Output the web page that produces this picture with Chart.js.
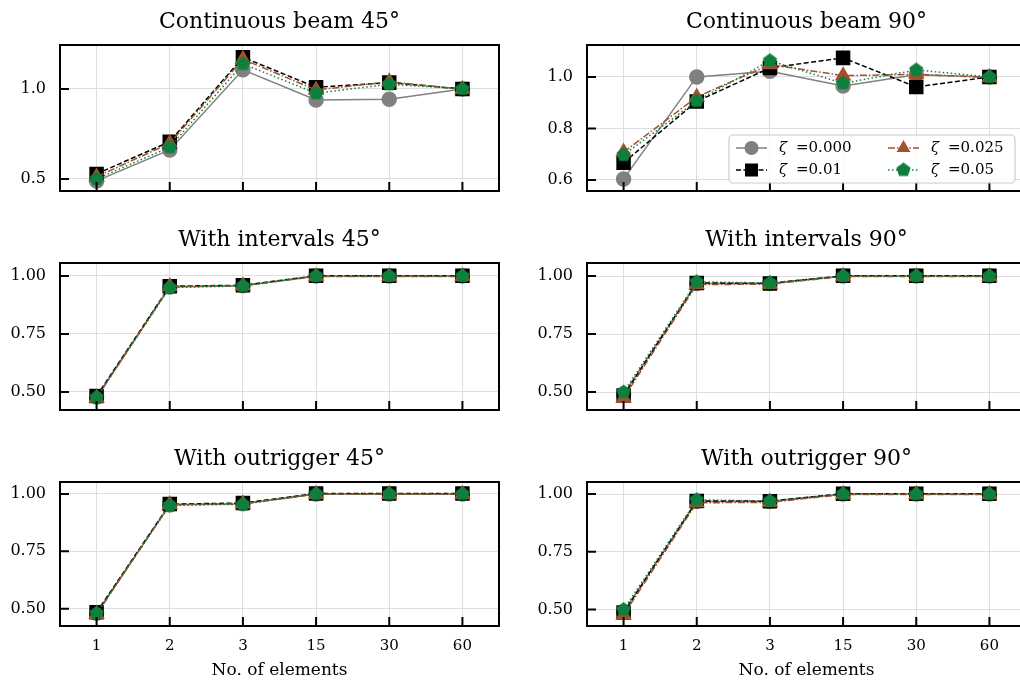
<!DOCTYPE html>
<html>
<head>
<meta charset="utf-8">
<title>Convergence with number of elements</title>
<script src="https://cdn.jsdelivr.net/npm/chart.js@4.4.1/dist/chart.umd.min.js"></script>
<style>
    html, body { margin: 0; padding: 0; width: 1020px; height: 687px; overflow: hidden; background: #fff; }
    canvas { position: absolute; }
</style>
</head>
<body>
<canvas id="beam45" width="510" height="200" style="left:0;top:0"></canvas>
<canvas id="beam90" width="520" height="200" style="left:510px;top:0"></canvas>
<canvas id="int45" width="510" height="200" style="left:0;top:218px"></canvas>
<canvas id="int90" width="520" height="200" style="left:510px;top:218px"></canvas>
<canvas id="out45" width="510" height="250" style="left:0;top:437px"></canvas>
<canvas id="out90" width="520" height="250" style="left:510px;top:437px"></canvas>
<script>
const categories = ['1', '2', '3', '15', '30', '60'];
const zetaLabels = ['ζ =0.000', 'ζ =0.01', 'ζ =0.025', 'ζ =0.05'];

// Continuous beam 45°
const beam45Z000 = [0.489, 0.661, 1.106, 0.939, 0.943, 1.000];
const beam45Z010 = [0.528, 0.707, 1.176, 1.009, 1.035, 1.000];
const beam45Z025 = [0.512, 0.698, 1.165, 0.994, 1.040, 0.998];
const beam45Z050 = [0.500, 0.676, 1.139, 0.976, 1.026, 1.000];

// Continuous beam 90°
const beam90Z000 = [0.604, 1.000, 1.022, 0.965, 1.008, 1.000];
const beam90Z010 = [0.667, 0.905, 1.035, 1.074, 0.961, 1.000];
const beam90Z025 = [0.708, 0.922, 1.048, 1.005, 1.010, 0.998];
const beam90Z050 = [0.697, 0.907, 1.063, 0.975, 1.027, 1.000];

// With intervals 45°
const int45Z000 = [0.478, 0.952, 0.958, 1.000, 1.000, 1.000];
const int45Z010 = [0.482, 0.956, 0.960, 1.001, 1.001, 1.001];
const int45Z025 = [0.474, 0.955, 0.958, 0.998, 0.998, 0.998];
const int45Z050 = [0.477, 0.950, 0.957, 1.000, 1.000, 1.000];

// With intervals 90°
const int90Z000 = [0.490, 0.968, 0.968, 1.000, 1.000, 1.000];
const int90Z010 = [0.485, 0.970, 0.968, 1.001, 1.001, 1.001];
const int90Z025 = [0.475, 0.963, 0.965, 0.998, 0.998, 0.998];
const int90Z050 = [0.500, 0.975, 0.970, 1.000, 1.000, 1.000];

// With outrigger 45°
const out45Z000 = [0.480, 0.952, 0.957, 1.000, 1.000, 1.000];
const out45Z010 = [0.484, 0.956, 0.960, 1.002, 1.002, 1.002];
const out45Z025 = [0.476, 0.954, 0.957, 0.999, 0.999, 0.999];
const out45Z050 = [0.480, 0.950, 0.955, 1.000, 1.000, 1.000];

// With outrigger 90°
const out90Z000 = [0.490, 0.968, 0.968, 1.000, 1.000, 1.000];
const out90Z010 = [0.487, 0.970, 0.969, 1.001, 1.001, 1.001];
const out90Z025 = [0.477, 0.962, 0.964, 0.998, 0.998, 0.998];
const out90Z050 = [0.500, 0.975, 0.970, 1.000, 1.000, 1.000];

// y tick labels
const beam45Ticks = [0.5, 1.0];
const beam90Ticks = [0.6, 0.8, 1.0];
const otherTicks = [0.50, 0.75, 1.00];

const gray = '#808080';
const sienna = '#a0522d';
const green = '#0e7f3d';
const gridColor = '#dedede';

Chart.defaults.font.family = '"DejaVu Serif", serif';
Chart.defaults.font.size = 15;
Chart.defaults.color = '#000';

// matplotlib-like pentagon marker
function pentagon(r, color) {
    var c = document.createElement('canvas');
    c.width = c.height = Math.ceil(2 * r + 2);
    var ctx = c.getContext('2d');
    ctx.fillStyle = color;
    ctx.beginPath();
    for (var i = 0; i < 5; i++) {
        var a = -Math.PI / 2 + i * 2 * Math.PI / 5;
        var px = c.width / 2 + r * Math.cos(a);
        var py = c.height / 2 + r * Math.sin(a);
        if (i == 0) ctx.moveTo(px, py); else ctx.lineTo(px, py);
    }
    ctx.closePath();
    ctx.fill();
    return c;
}
const pentImg = pentagon(7.5, green);

function makeSets(z0, z1, z25, z5) {
    return [
        { label: zetaLabels[0], data: z0, borderColor: gray, backgroundColor: gray, borderWidth: 1.5,
          pointStyle: 'circle', pointRadius: 7, order: 3 },
        { label: zetaLabels[1], data: z1, borderColor: '#000', backgroundColor: '#000', borderWidth: 1.5,
          borderDash: [5, 2.5], pointStyle: 'rect', pointRadius: 9.2, order: 2 },
        { label: zetaLabels[2], data: z25, borderColor: sienna, backgroundColor: sienna, borderWidth: 1.5,
          borderDash: [7, 2, 1.5, 2], pointStyle: 'triangle', pointRadius: 8, order: 1 },
        { label: zetaLabels[3], data: z5, borderColor: green, backgroundColor: green, borderWidth: 1.5,
          borderDash: [1.5, 2.5], pointStyle: pentImg, pointRadius: 7.5, order: 0 }
    ];
}

// box round the axes and inward ticks
const framePlugin = {
    id: 'frame',
    afterDatasetsDraw: function (chart) {
        var ctx = chart.ctx, a = chart.chartArea;
        var xs = chart.scales.x, ys = chart.scales.y;
        ctx.save();
        ctx.strokeStyle = '#000';
        ctx.lineWidth = 2;
        ctx.strokeRect(a.left, a.top, a.right - a.left, a.bottom - a.top);
        ctx.beginPath();
        xs.ticks.forEach(function (t, i) {
            var px = xs.getPixelForTick(i);
            ctx.moveTo(px, a.bottom);
            ctx.lineTo(px, a.bottom - 9);
        });
        ys.ticks.forEach(function (t, i) {
            var py = ys.getPixelForTick(i);
            ctx.moveTo(a.left, py);
            ctx.lineTo(a.left + 9, py);
        });
        ctx.stroke();
        ctx.restore();
    }
};

// two column legend in the lower right of the axes
const boxLegend = {
    id: 'boxLegend',
    afterDraw: function (chart) {
        var ctx = chart.ctx, area = chart.chartArea;
        var w = 286, h = 48;
        var bx = area.right - 11 - w, by = area.bottom - 8 - h;
        ctx.save();
        ctx.beginPath();
        ctx.roundRect(bx, by, w, h, 4);
        ctx.fillStyle = 'rgba(255,255,255,0.8)';
        ctx.fill();
        ctx.strokeStyle = '#cccccc';
        ctx.lineWidth = 1.2;
        ctx.stroke();
        chart.data.datasets.forEach(function (ds, i) {
            var col = i < 2 ? 0 : 1, row = i % 2;
            var lx = bx + 7 + col * 152, ly = by + 13 + row * 22;
            ctx.strokeStyle = ds.borderColor;
            ctx.lineWidth = ds.borderWidth;
            ctx.setLineDash(ds.borderDash || []);
            ctx.beginPath();
            ctx.moveTo(lx, ly);
            ctx.lineTo(lx + 31, ly);
            ctx.stroke();
            ctx.setLineDash([]);
            ctx.fillStyle = ds.backgroundColor;
            Chart.helpers.drawPoint(ctx, { pointStyle: ds.pointStyle, radius: ds.pointRadius, rotation: 0, borderWidth: 0 }, lx + 15.5, ly);
            var tx = lx + 43;
            ctx.fillStyle = '#000';
            ctx.textBaseline = 'middle';
            ctx.font = 'italic 15px "DejaVu Serif"';
            ctx.fillText(ds.label.charAt(0), tx, ly);
            ctx.font = '15px "DejaVu Serif"';
            ctx.fillText(ds.label.slice(2), tx + 17, ly);
        });
        ctx.restore();
    }
};

function makePanel(id, title, sets, yMin, yMax, yTicks, decimals, rightCol, xHeight, showX, legend) {
    var plugins = [framePlugin];
    if (legend) plugins.push(boxLegend);
    return new Chart(document.getElementById(id), {
        type: 'line',
        data: { labels: categories, datasets: sets },
        plugins: plugins,
        options: {
            responsive: false,
            animation: false,
            // right hand axes run past the edge of the figure
            layout: { autoPadding: false, padding: { left: 0, right: rightCol ? 4 : 11, top: 0, bottom: 0 } },
            elements: { line: { tension: 0, fill: false }, point: { borderWidth: 0 } },
            plugins: {
                legend: { display: false },
                tooltip: { enabled: false },
                title: {
                    display: true, text: title, fullSize: false, color: '#000',
                    font: { size: 22, weight: 'normal', lineHeight: 1.2 },
                    padding: { top: 9, bottom: 9.6 }
                }
            },
            scales: {
                x: {
                    offset: true,
                    afterFit: function (s) { s.height = xHeight; s.paddingLeft = 0; s.paddingRight = 0; },
                    grid: { color: gridColor, drawTicks: false },
                    border: { display: false },
                    ticks: { display: showX, padding: 11, font: { size: 15 }, maxRotation: 0, autoSkip: false },
                    title: { display: showX, text: 'No. of elements', font: { size: 17 }, padding: { top: 0, bottom: 6 } }
                },
                y: {
                    min: yMin,
                    max: yMax,
                    afterBuildTicks: function (s) { s.ticks = yTicks.map(function (v) { return { value: v }; }); },
                    afterFit: function (s) { s.width = rightCol ? 77 : 60; s.paddingTop = 0; s.paddingBottom = 0; },
                    grid: { color: gridColor, drawTicks: false },
                    border: { display: false },
                    ticks: {
                        padding: 14, font: { size: 16 },
                        callback: function (v) { return Number(v).toFixed(decimals); }
                    }
                }
            }
        }
    });
}

makePanel('beam45', 'Continuous beam 45°', makeSets(beam45Z000, beam45Z010, beam45Z025, beam45Z050),
    0.433, 1.244, beam45Ticks, 1, false, 9, false, false);
makePanel('beam90', 'Continuous beam 90°', makeSets(beam90Z000, beam90Z010, beam90Z025, beam90Z050),
    0.557, 1.124, beam90Ticks, 1, true, 9, false, true);
makePanel('int45', 'With intervals 45°', makeSets(int45Z000, int45Z010, int45Z025, int45Z050),
    0.422, 1.056, otherTicks, 2, false, 8, false, false);
makePanel('int90', 'With intervals 90°', makeSets(int90Z000, int90Z010, int90Z025, int90Z050),
    0.423, 1.056, otherTicks, 2, true, 8, false, false);
makePanel('out45', 'With outrigger 45°', makeSets(out45Z000, out45Z010, out45Z025, out45Z050),
    0.4245, 1.052, otherTicks, 2, false, 61, true, false);
makePanel('out90', 'With outrigger 90°', makeSets(out90Z000, out90Z010, out90Z025, out90Z050),
    0.429, 1.052, otherTicks, 2, true, 61, true, false);
</script>
</body>
</html>
